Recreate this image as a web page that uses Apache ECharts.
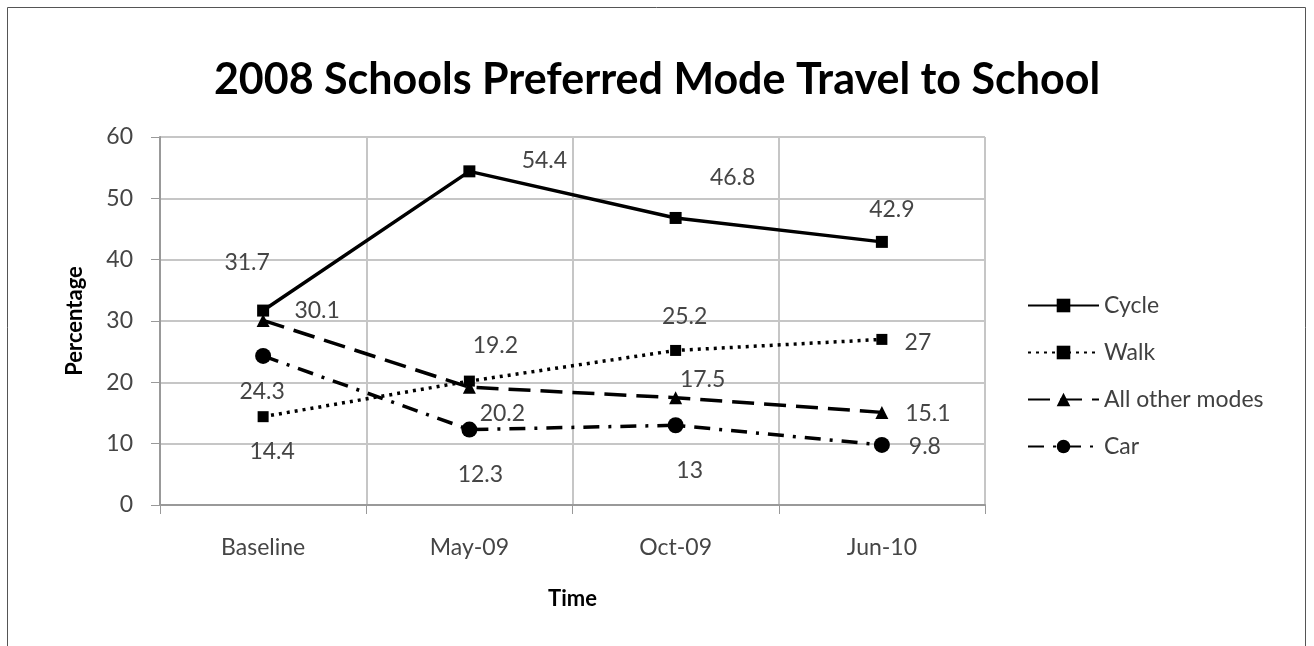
<!DOCTYPE html>
<html>
<head>
<meta charset="utf-8">
<script src="https://cdn.jsdelivr.net/npm/echarts@6/dist/echarts.min.js"></script>
<style>
  html, body { margin: 0; padding: 0; background: #fff; }
  #chart { width: 1314px; height: 646px; }
</style>
</head>
<body>
<div id="chart"></div>
<script>
// ---- data ----
const categories = ['Baseline', 'May-09', 'Oct-09', 'Jun-10'];
const cycle = [31.7, 54.4, 46.8, 42.9];
const walk = [14.4, 20.2, 25.2, 27];
const otherModes = [30.1, 19.2, 17.5, 15.1];
const car = [24.3, 12.3, 13, 9.8];
const yTicks = [0, 10, 20, 30, 40, 50, 60];

// ---- label placement (style, Excel-like scattered labels) ----
const labelOffsets = {
  cycle: [[-16, -48], [75, -11], [57, -40], [10, -32]],
  walk: [[9, 35], [33, 32], [9, -34], [36, 3]],
  other: [[54, -10], [26, -42], [27, -18], [46, 1]],
  car: [[-1, 36], [11, 45], [14, 45], [43, 2]]
};

const FONT = 'Lato';
const labelColor = '#454545';

function withLabels(values, offsets) {
  return values.map((v, i) => ({
    value: v,
    label: { offset: offsets[i] }
  }));
}

function makeSeries(name, values, offsets, symbol, symbolSize, lineType) {
  return {
    name: name,
    type: 'line',
    data: withLabels(values, offsets),
    symbol: symbol,
    symbolSize: symbolSize,
    showAllSymbol: true,
    itemStyle: { color: '#000' },
    lineStyle: { color: '#000', width: 3.5, type: lineType, cap: 'butt' },
    label: {
      show: true,
      position: 'inside',
      align: 'center',
      verticalAlign: 'middle',
      color: labelColor,
      fontFamily: FONT,
      fontSize: 23
    },
    emphasis: { disabled: true },
    animation: false
  };
}

const chart = echarts.init(document.getElementById('chart'), null, { renderer: 'canvas' });

const option = {
  backgroundColor: '#fff',
  animation: false,
  title: {
    text: '2008 Schools Preferred Mode Travel to School',
    left: 'center',
    top: 54,
    textStyle: { fontFamily: FONT, fontWeight: 'bold', fontSize: 43, color: '#000' }
  },
  graphic: [{
    type: 'rect',
    shape: { x: 7.5, y: 7.5, width: 1298, height: 660 },
    style: { fill: 'none', stroke: '#555', lineWidth: 1 },
    silent: true
  }],
  grid: { left: 160, right: 329, top: 137, bottom: 141, containLabel: false },
  legend: {
    orient: 'vertical',
    left: 1027,
    top: 294,
    padding: 0,
    itemWidth: 71,
    itemHeight: 17,
    itemGap: 24,
    textStyle: { fontFamily: FONT, fontSize: 23, color: '#404040', padding: [0, 0, 0, 0] },
    data: ['Cycle', 'Walk', 'All other modes', 'Car']
  },
  xAxis: {
    type: 'category',
    data: categories,
    boundaryGap: true,
    name: 'Time',
    nameLocation: 'middle',
    nameGap: 83,
    nameTextStyle: { fontFamily: FONT, fontWeight: 'bold', fontSize: 22, color: '#000' },
    axisLine: { show: true, lineStyle: { color: '#999', width: 2 } },
    axisTick: { show: true, length: 9, lineStyle: { color: '#999', width: 1 } },
    axisLabel: { margin: 31, fontFamily: FONT, fontSize: 23, color: labelColor },
    splitLine: { show: true, lineStyle: { color: '#c6c6c6', width: 2 } }
  },
  yAxis: {
    type: 'value',
    min: yTicks[0],
    max: yTicks[yTicks.length - 1],
    interval: 10,
    name: 'Percentage',
    nameLocation: 'middle',
    nameGap: 74,
    nameTextStyle: { fontFamily: FONT, fontWeight: 'bold', fontSize: 22, color: '#000' },
    axisLine: { show: true, lineStyle: { color: '#999', width: 2 } },
    axisTick: { show: true, length: 9, lineStyle: { color: '#999', width: 1 } },
    axisLabel: { margin: 27, fontFamily: FONT, fontSize: 23, color: labelColor },
    splitLine: { show: true, lineStyle: { color: '#c6c6c6', width: 2 } }
  },
  series: [
    makeSeries('Cycle', cycle, labelOffsets.cycle, 'rect', 12, 'solid'),
    makeSeries('Walk', walk, labelOffsets.walk, 'rect', 11, [3, 5]),
    makeSeries('All other modes', otherModes, labelOffsets.other, 'triangle', 13, [22, 10]),
    makeSeries('Car', car, labelOffsets.car, 'circle', 16, [16, 9, 3, 9])
  ]
};

chart.setOption(option);
</script>
</body>
</html>
